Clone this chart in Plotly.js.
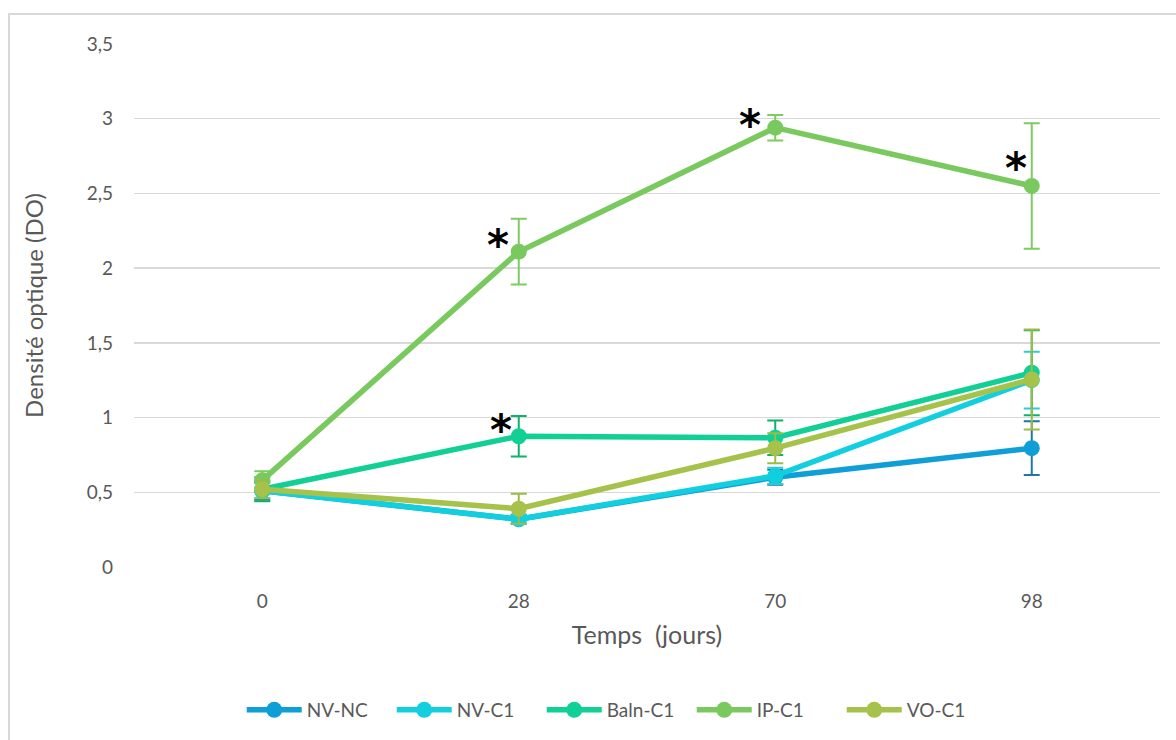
<!DOCTYPE html>
<html><head><meta charset="utf-8">
<script src="https://cdn.plot.ly/plotly-3.0.1.min.js"></script>
<style>
html,body{margin:0;padding:0;background:#fff;overflow:hidden;}
#frame{position:absolute;left:8px;top:13px;width:1200px;height:760px;border:2px solid #d9d9d9;pointer-events:none;z-index:5;}
#chart{position:absolute;left:0;top:0;width:1176px;height:740px;}
</style>
</head><body>
<div id="chart"></div><div id="frame"></div>
<script>
const days = ["0", "28", "70", "98"];
const seriesNames = ["NV-NC", "NV-C1", "Baln-C1", "IP-C1", "VO-C1"];
const nvNc   = [0.51, 0.32, 0.60, 0.795];
const nvC1   = [0.51, 0.32, 0.61, 1.25];
const balnC1 = [0.52, 0.875, 0.865, 1.30];
const ipC1   = [0.58, 2.11, 2.94, 2.55];
const voC1   = [0.52, 0.39, 0.795, 1.255];
const errNvNc   = [0.06, 0.03, 0.05, 0.18];
const errNvC1   = [0.05, 0.03, 0.055, 0.19];
const errBalnC1 = [0.08, 0.135, 0.115, 0.285];
const errIpC1   = [0.06, 0.22, 0.085, 0.42];
const errVoC1   = [0.06, 0.10, 0.10, 0.335];
const yTicks = [0, 0.5, 1, 1.5, 2, 2.5, 3, 3.5];
const yTickText = ["0", "0,5", "1", "1,5", "2", "2,5", "3", "3,5"];
// significance marks: category indices
const starsIp = [1, 2, 3];
const starsBaln = [1];

const colors = ["#0f9ed5", "#12cfdf", "#12cf96", "#79c95f", "#a6c24a"];
const errColors = ["#1e77a6", "#2dcbd8", "#0fb26c", "#7ccc62", "#9cbc45"];
const values = [nvNc, nvC1, balnC1, ipC1, voC1];
const errs = [errNvNc, errNvC1, errBalnC1, errIpC1, errVoC1];
const font = "Lato, 'Open Sans', sans-serif";
const grey = "#595959";

const traces = seriesNames.map((n, i) => ({
  type: "scatter", mode: "lines+markers", name: n,
  x: days, y: values[i],
  line: {color: colors[i], width: 5.5},
  marker: {color: colors[i], size: 16},
  error_y: {type: "data", array: errs[i], visible: true, color: errColors[i], thickness: 2, width: 8}
}));

const shifts = {1: [-21, 6], 2: [-25, 2], 3: [-16, 17]};
const starFont = {family: "DejaVu Sans, sans-serif", size: 42, color: "#000"};
const annotations = [];
starsIp.forEach(k => annotations.push({x: k, y: ipC1[k], xref: "x", yref: "y", text: "<b>*</b>", showarrow: false,
  xshift: shifts[k][0], yshift: shifts[k][1], font: starFont}));
starsBaln.forEach(k => annotations.push({x: k, y: balnC1[k], xref: "x", yref: "y", text: "<b>*</b>", showarrow: false,
  xshift: -18, yshift: 6, font: starFont}));

const layout = {
  width: 1176, height: 740,
  margin: {l: 133.5, r: 15.5, t: 44, b: 172},
  paper_bgcolor: "#fff", plot_bgcolor: "#fff",
  font: {family: font, color: grey, size: 19},
  showlegend: true,
  legend: {orientation: "h", x: 0.105, xanchor: "left", y: -0.271, yanchor: "middle",
    font: {family: font, size: 19, color: grey}, itemwidth: 55, entrywidth: 80, entrywidthmode: "pixels", tracegroupgap: 0},
  xaxis: {type: "category", range: [-0.5, 3.5], showgrid: false, zeroline: false, showline: false,
    ticks: "", ticklabelstandoff: 21, tickfont: {size: 19, color: grey},
    title: {text: "Temps  (jours)", font: {size: 25, color: grey}, standoff: 15}},
  yaxis: {range: [0, 3.5], tickvals: yTicks, ticktext: yTickText, showgrid: true, gridcolor: "#d9d9d9", gridwidth: 1.5,
    zeroline: false, showline: false, ticks: "", ticklabelstandoff: 20, tickfont: {size: 19, color: grey},
    title: {text: "Densité optique (DO)", font: {size: 24, color: grey}, standoff: 36}},
  annotations: annotations
};
Plotly.newPlot("chart", traces, layout, {displayModeBar: false, staticPlot: true});
</script>
</body></html>
